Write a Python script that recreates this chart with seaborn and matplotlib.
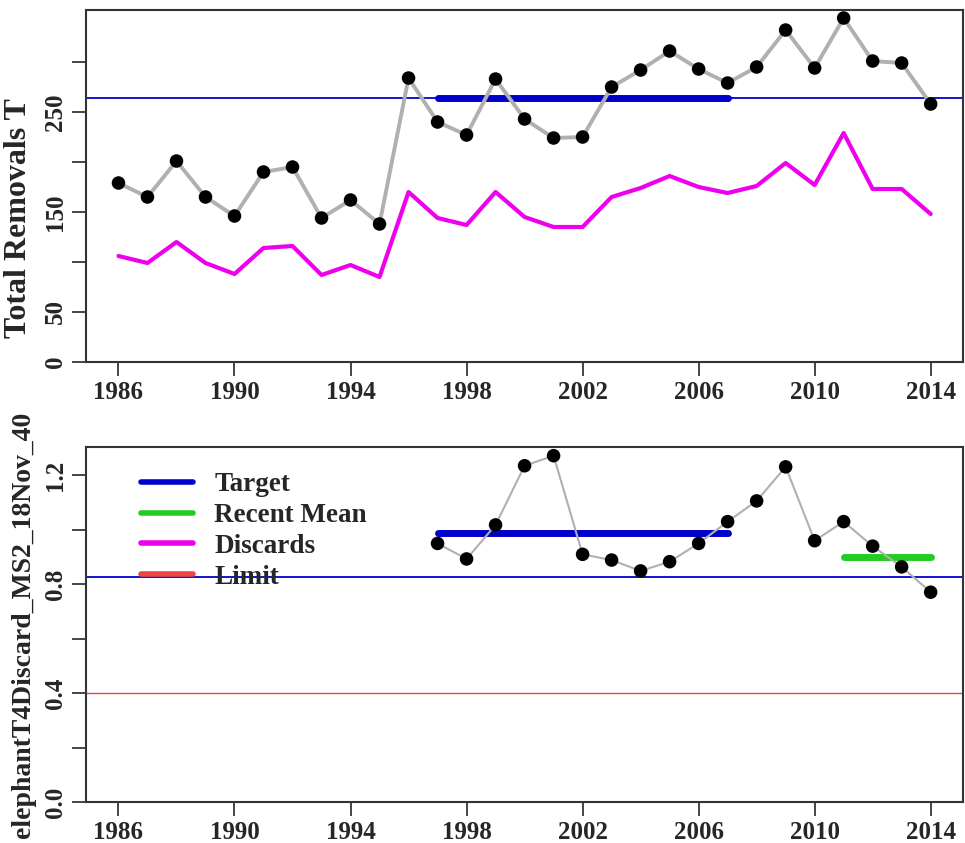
import numpy as np
import pandas as pd
import matplotlib.pyplot as plt
import seaborn as sns
from matplotlib.lines import Line2D

sns.set_style("ticks")
plt.rcParams["font.family"] = ["Liberation Serif", "DejaVu Serif"]
plt.rcParams["font.weight"] = "bold"

years = list(range(1986, 2015))
total_removals = [179, 165, 201, 165, 146, 190, 195, 144, 162, 138,
                  284, 240, 227, 283, 243, 224, 225, 275, 292, 311,
                  293, 279, 295, 332, 294, 344, 301, 299, 258]
discards = [106, 99, 120, 99, 88, 114, 116, 87, 97, 85,
            170, 144, 137, 170, 145, 135, 135, 165, 174, 186,
            175, 169, 176, 199, 177, 229, 173, 173, 148]
removals_target = 264
target_years = [1997, 2007]

ratio_years = list(range(1997, 2015))
discard_ratio = [0.949, 0.892, 1.017, 1.234, 1.271, 0.909, 0.888, 0.848, 0.882,
                 0.949, 1.029, 1.105, 1.230, 0.959, 1.029, 0.939, 0.863, 0.770]
ratio_target = 0.986
ratio_ref = 0.826
recent_mean = 0.900
recent_years = [2011, 2014]
limit = 0.40

top = pd.DataFrame({"year": years, "total": total_removals, "discards": discards})
bottom = pd.DataFrame({"year": ratio_years, "ratio": discard_ratio})

BLUE = "#0000CC"
GREEN = "#22CC22"
MAGENTA = "#EE00EE"
RED = "#EE4444"
GREY = "#B0B0B0"
xticks = list(range(1986, 2015, 4))

fig = plt.figure(figsize=(9.65, 8.43), dpi=100)
ax1 = fig.add_axes([0.0891, 0.5706, 0.909, 0.4175])
ax2 = fig.add_axes([0.0891, 0.0486, 0.909, 0.4212])

# top panel: total removals
ax1.axhline(removals_target, color=BLUE, lw=1.3, zorder=1)
ax1.plot(target_years, [removals_target] * 2, color=BLUE, lw=5, solid_capstyle="round", zorder=2)
sns.lineplot(data=top, x="year", y="discards", color=MAGENTA, lw=3, ax=ax1, zorder=3)
sns.lineplot(data=top, x="year", y="total", color=GREY, lw=2.8, ax=ax1, zorder=3)
sns.scatterplot(data=top, x="year", y="total", color="black", s=95, edgecolor="none", ax=ax1, zorder=4)
ax1.set_ylim(0, 352)
ax1.set_yticks(range(0, 301, 50))
ax1.set_yticklabels(["0", "50", "", "150", "", "250", ""])
ax1.set_ylabel("Total Removals T", fontsize=23, fontweight="bold")
ax1.yaxis.set_label_coords(-0.060, 0.41)

# bottom panel: discard ratio
ax2.axhline(ratio_ref, color=BLUE, lw=1.3, zorder=1)
ax2.axhline(limit, color=RED, lw=1.0, zorder=1)
ax2.plot(target_years, [ratio_target] * 2, color=BLUE, lw=5, solid_capstyle="round", zorder=2)
ax2.plot(recent_years, [recent_mean] * 2, color=GREEN, lw=5, solid_capstyle="round", zorder=2)
sns.lineplot(data=bottom, x="year", y="ratio", color=GREY, lw=1.5, ax=ax2, zorder=3)
sns.scatterplot(data=bottom, x="year", y="ratio", color="black", s=95, edgecolor="none", ax=ax2, zorder=4)
ax2.set_ylim(0, 1.303)
ax2.set_yticks(np.arange(0, 1.21, 0.2))
ax2.set_yticklabels(["0.0", "", "0.4", "", "0.8", "", "1.2"])
ax2.set_ylabel("elephantT4Discard_MS2_18Nov_40", fontsize=20, fontweight="bold", labelpad=6)

handles = [Line2D([], [], color=c, lw=4) for c in [BLUE, GREEN, MAGENTA, RED]]
ax2.legend(handles, ["Target", "Recent Mean", "Discards", "Limit"], loc="upper left",
           bbox_to_anchor=(0.035, 0.998), frameon=False, handlelength=1.9,
           handletextpad=0.8, labelspacing=0.22, prop={"weight": "bold", "size": 19.5})

for ax in (ax1, ax2):
    ax.set_xlim(1984.88, 2015.12)
    ax.set_xticks(xticks)
    ax.set_xlabel("")
    ax.tick_params(axis="both", direction="out", length=10, width=1.2, labelsize=18)
    ax.tick_params(axis="y", labelrotation=90)
    for lab in ax.get_yticklabels():
        lab.set_va("center")
        lab.set_fontweight("bold")
    for lab in ax.get_xticklabels():
        lab.set_fontweight("bold")
    for sp in ax.spines.values():
        sp.set_visible(True)
        sp.set_linewidth(1.5)
        sp.set_color("#333333")

fig.savefig("out.png", dpi=100)
